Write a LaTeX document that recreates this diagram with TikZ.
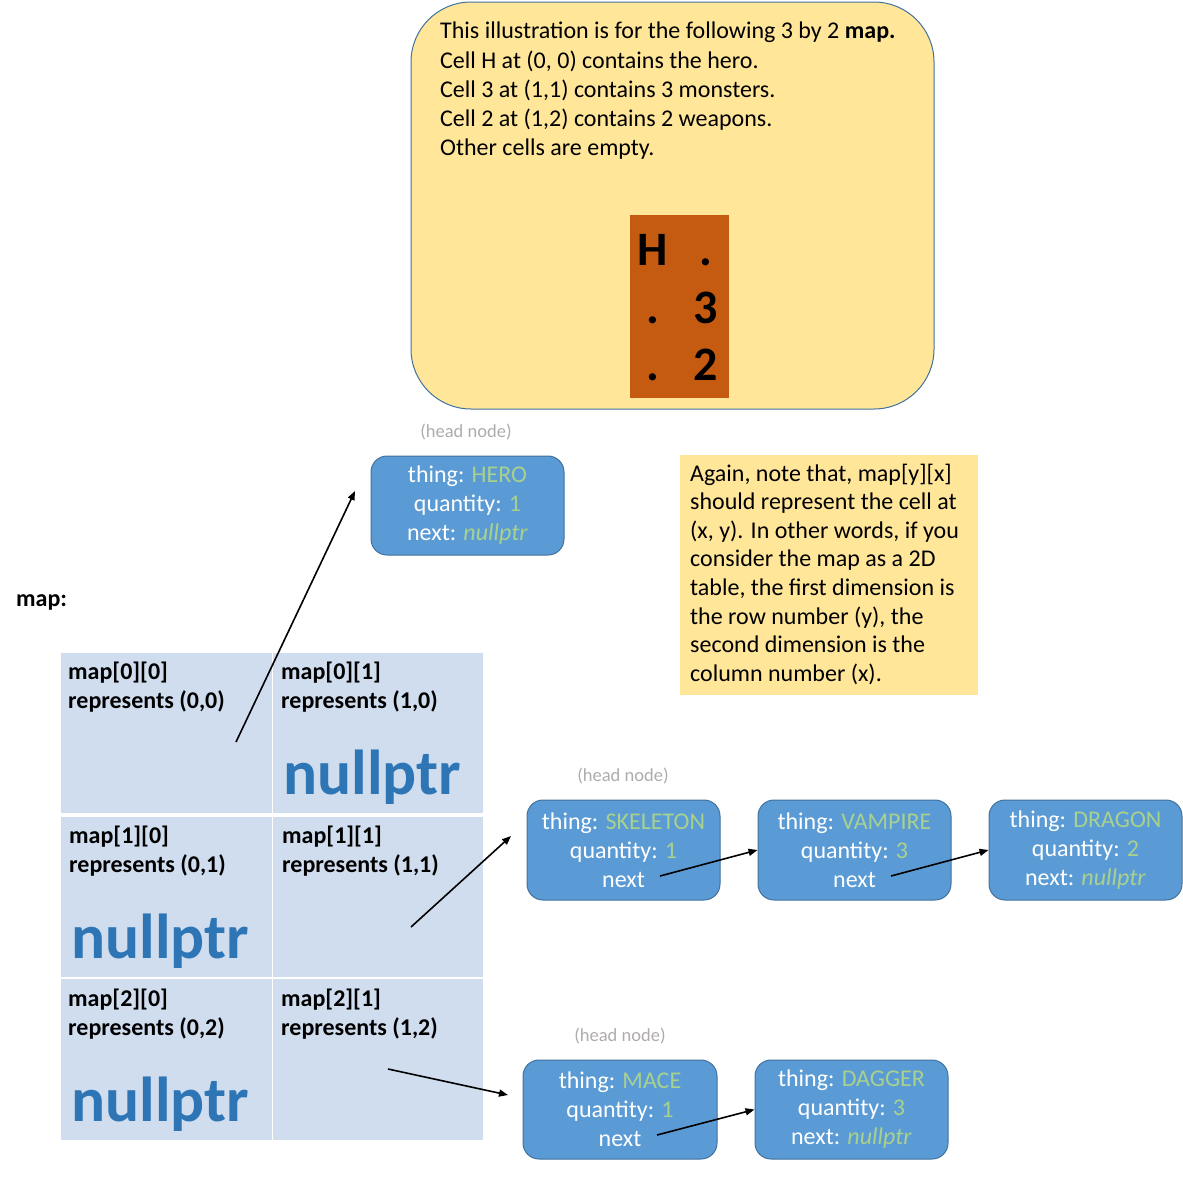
\documentclass[tikz,border=0pt]{standalone}
\usepackage{fontspec}
\setmainfont{Carlito}
\usetikzlibrary{arrows.meta}
\definecolor{nodeblue}{RGB}{91,155,213}
\definecolor{nodeborder}{RGB}{65,113,156}
\definecolor{valgreen}{RGB}{169,209,142}
\definecolor{noteyellow}{RGB}{255,230,153}
\definecolor{mapbrown}{RGB}{197,90,17}
\definecolor{cellblue}{RGB}{208,221,238}
\definecolor{nullblue}{RGB}{46,117,182}
\definecolor{headgray}{RGB}{175,171,171}
\newcommand\gv[1]{\textcolor{valgreen}{#1}}
\begin{document}
\begin{tikzpicture}[x=1pt,y=-1pt,
  txt/.style={font=\fontsize{24}{29}\selectfont, inner sep=0pt, anchor=base west},
  btxt/.style={font=\fontsize{24}{29}\selectfont\bfseries, inner sep=0pt, anchor=base west},
  bignull/.style={font=\fontsize{63.5}{64}\selectfont\bfseries, text=nullblue, inner sep=0pt, anchor=base west},
  mapchar/.style={font=\fontsize{48}{48}\selectfont\bfseries, inner sep=0pt, anchor=base},
  headlbl/.style={font=\fontsize{18.5}{22}\selectfont, text=headgray, inner sep=0pt, anchor=base},
  lnode/.style={draw=nodeborder, line width=1pt, fill=nodeblue, rounded corners=16pt,
    text=white, align=center, font=\fontsize{24}{29}\selectfont, inner sep=0pt,
    minimum width=193pt, minimum height=99pt},
  cell/.style={fill=cellblue, inner sep=0pt},
  conn/.style={-{Triangle[length=9pt,width=7pt]}, line width=1.6pt}]
\useasboundingbox (0,0) rectangle (1183,1176);

% top illustration box
\node[draw=nodeborder, line width=1pt, fill=noteyellow, rounded corners=60pt,
  minimum width=523pt, minimum height=407pt, inner sep=0pt] (info) at (672.5,205.5) {};
\node[txt] (i1) at (440,38) {This illustration is for the following 3 by 2 \textbf{map.}};
\node[txt] (i2) at (440,68) {Cell H at (0, 0) contains the hero.};
\node[txt] (i3) at (440,97) {Cell 3 at (1,1) contains 3 monsters.};
\node[txt] (i4) at (440,126) {Cell 2 at (1,2) contains 2 weapons.};
\node[txt] (i5) at (440,155) {Other cells are empty.};
\node[fill=mapbrown, minimum width=99pt, minimum height=183pt, inner sep=0pt] (mgrid) at (679.5,306.5) {};
\node[mapchar] (m00) at (653,265) {H};
\node[mapchar] (m01) at (706,265) {.};
\node[mapchar] (m10) at (653,323) {.};
\node[mapchar] (m11) at (706,323) {3};
\node[mapchar] (m20) at (653,380) {.};
\node[mapchar] (m21) at (706,380) {2};

% note
\node[fill=noteyellow, minimum width=298pt, minimum height=240pt, inner sep=0pt] (note) at (829,575) {};
\node[txt] (n1) at (690,481.0) {Again, note that, map[y][x]};
\node[txt] (n2) at (690,509.6) {should represent the cell at};
\node[txt] (n3) at (690,538.2) {(x, y). In other words, if you};
\node[txt] (n4) at (690,566.8) {consider the map as a 2D};
\node[txt] (n5) at (690,595.4) {table, the first dimension is};
\node[txt] (n6) at (690,624.0) {the row number (y), the};
\node[txt] (n7) at (690,652.6) {second dimension is the};
\node[txt] (n8) at (690,681.2) {column number (x).};

% map label
\node[btxt] (maplbl) at (16,606) {map:};

% grid cells
\node[cell, minimum width=211pt, minimum height=160pt] (c00) at (166.5,733) {};
\node[cell, minimum width=210pt, minimum height=160pt] (c01) at (378,733) {};
\node[cell, minimum width=211pt, minimum height=160pt] (c10) at (166.5,897) {};
\node[cell, minimum width=210pt, minimum height=160pt] (c11) at (378,897) {};
\node[cell, minimum width=211pt, minimum height=161pt] (c20) at (166.5,1059.5) {};
\node[cell, minimum width=210pt, minimum height=161pt] (c21) at (378,1059.5) {};

\node[btxt] (t00a) at (68,679) {map[0][0]};
\node[btxt] (t00b) at (68,708) {represents (0,0)};
\node[btxt] (t01a) at (281,679) {map[0][1]};
\node[btxt] (t01b) at (281,708) {represents (1,0)};
\node[btxt] (t10a) at (69,843) {map[1][0]};
\node[btxt] (t10b) at (69,872) {represents (0,1)};
\node[btxt] (t11a) at (282,843) {map[1][1]};
\node[btxt] (t11b) at (282,872) {represents (1,1)};
\node[btxt] (t20a) at (68,1006) {map[2][0]};
\node[btxt] (t20b) at (68,1035) {represents (0,2)};
\node[btxt] (t21a) at (281,1006) {map[2][1]};
\node[btxt] (t21b) at (281,1035) {represents (1,2)};

\node[bignull] (null01) at (283,794) {nullptr};
\node[bignull] (null10) at (71,958) {nullptr};
\node[bignull] (null20) at (71,1121) {nullptr};

% linked list nodes
\node[headlbl] (h0) at (466,437) {(head node)};
\node[lnode] (hero) at (467.5,505.5) {thing: \gv{HERO}\\quantity: \gv{1}\\next: \gv{\textit{nullptr}}};

\node[headlbl] (h1) at (623,781) {(head node)};
\node[lnode, minimum height=100pt] (skel) at (623.5,850) {thing: \gv{SKELETON}\\quantity: \gv{1}\\next};
\node[lnode, minimum height=100pt] (vamp) at (854.5,850) {thing: \gv{VAMPIRE}\\quantity: \gv{3}\\next};
\node[lnode, minimum height=100pt] (drag) at (1085.5,850) {thing: \gv{DRAGON}\\quantity: \gv{2}\\next: \gv{\textit{nullptr}}};

\node[headlbl] (h2) at (620,1041) {(head node)};
\node[lnode, minimum width=194pt] (mace) at (620,1109.5) {thing: \gv{MACE}\\quantity: \gv{1}\\next};
\node[lnode] (dagger) at (851.5,1109.5) {thing: \gv{DAGGER}\\quantity: \gv{3}\\next: \gv{\textit{nullptr}}};

% connectors
\coordinate (p00) at (236,742);
\coordinate (p00e) at (355,491);
\coordinate (p11) at (411,927);
\coordinate (p11e) at (511,836);
\coordinate (p21) at (388,1069);
\coordinate (p21e) at (508,1095);
\coordinate (skelnext) at (660,876);
\coordinate (vampnext) at (891,876);
\coordinate (macenext) at (657,1135);
\draw[conn] (p00) -- (p00e);
\draw[conn] (p11) -- (p11e);
\draw[conn] (p21) -- (p21e);
\draw[conn] (skelnext) -- (vamp.west);
\draw[conn] (vampnext) -- (drag.west);
\draw[conn] (macenext) -- (dagger.west);
\end{tikzpicture}
\end{document}
